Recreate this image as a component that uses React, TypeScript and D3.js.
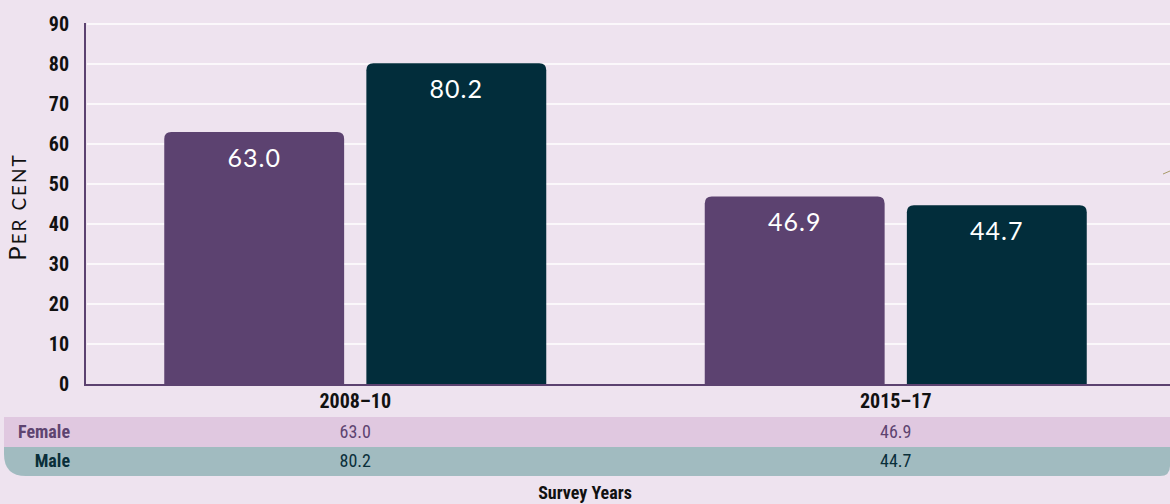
import React from "react";
import * as d3 from "d3";

const categories = ["2008–10", "2015–17"];
const seriesNames = ["Female", "Male"];
const female = [63.0, 46.9];
const male = [80.2, 44.7];
const yTicks = [0, 10, 20, 30, 40, 50, 60, 70, 80, 90];

const W = 1170;
const H = 504;
const colors = { Female: "#5c4270", Male: "#022d3b" };
const rowFill = { Female: "#e0c8e0", Male: "#a1bbc0" };
const rowText = { Female: "#5e4470", Male: "#0a2f3a" };
const condensed = "'Liberation Sans Narrow', 'Roboto Condensed', Roboto, sans-serif";

function topRounded(x: number, y: number, w: number, h: number, r: number) {
  return `M${x},${y + h} L${x},${y + r} Q${x},${y} ${x + r},${y} L${x + w - r},${y} Q${x + w},${y} ${x + w},${y + r} L${x + w},${y + h} Z`;
}

export default function App() {
  const left = 85;
  const right = 1170;
  const top = 24;
  const bottom = 384;
  const y = d3.scaleLinear().domain([0, 90]).range([bottom, top]);
  const x0 = d3.scaleBand<string>().domain(categories).range([left, right - 4]);
  const x1 = d3.scaleBand<string>().domain(seriesNames).range([0, 382]).paddingInner(0.11);
  const values: Record<string, number[]> = { Female: female, Male: male };
  const cx = (c: string) => (x0(c) as number) + x0.bandwidth() / 2;

  return (
    <svg width={W} height={H} style={{ position: "absolute", left: 0, top: 0, display: "block" }}>
      <rect x={0} y={0} width={W} height={H} fill="#eee3ef" />
      {yTicks.filter((t) => t > 0).map((t) => (
        <line key={t} x1={left + 2} x2={right} y1={y(t)} y2={y(t)} stroke="#ffffff" strokeWidth={1.5} />
      ))}
      {yTicks.map((t) => (
        <text key={"t" + t} x={69} y={y(t)} dy="0.35em" textAnchor="end" fontFamily={condensed} fontWeight="bold" fontSize={20} fill="#111">
          {t}
        </text>
      ))}
      {categories.map((c, i) => {
        const gx = cx(c) - 191;
        return seriesNames.map((s) => {
          const v = values[s][i];
          const bx = gx + (x1(s) as number);
          const bw = x1.bandwidth();
          return (
            <g key={c + s}>
              <path d={topRounded(bx, y(v), bw, bottom - y(v), 7)} fill={(colors as any)[s]} />
              <text x={bx + bw / 2} y={y(v) + 26} dy="0.35em" textAnchor="middle" fontFamily="Lato, 'Open Sans', sans-serif" fontSize={25} letterSpacing={1} fill="#ffffff">
                {v.toFixed(1)}
              </text>
            </g>
          );
        });
      })}
      <line x1={left} x2={left} y1={top - 1} y2={bottom + 2} stroke="#5c4270" strokeWidth={2} />
      <line x1={left} x2={right} y1={bottom + 1} y2={bottom + 1} stroke="#5c4270" strokeWidth={2} />
      <line x1={1163} x2={1170} y1={174} y2={171} stroke="#a89a6a" strokeWidth={1} />
      {categories.map((c) => (
        <text key={"c" + c} x={cx(c)} y={401} dy="0.35em" textAnchor="middle" fontFamily={condensed} fontWeight="bold" fontSize={20} fill="#111">
          {c}
        </text>
      ))}
      <path d={`M4,417 L${W},417 L${W},447 L4,447 Z`} fill={rowFill.Female} />
      <path d={`M4,447 L${W},447 L${W},466 Q${W},476 ${W - 10},476 L26,476 Q4,476 4,454 Z`} fill={rowFill.Male} />
      {seriesNames.map((s, r) => {
        const cy = 432 + r * 29;
        return (
          <g key={"row" + s}>
            <text x={70} y={cy} dy="0.35em" textAnchor="end" fontFamily={condensed} fontWeight="bold" fontSize={18} fill={(rowText as any)[s]}>
              {s}
            </text>
            {categories.map((c, i) => (
              <text key={c} x={cx(c)} y={cy} dy="0.35em" textAnchor="middle" fontFamily={condensed} fontSize={18} fill={(rowText as any)[s]}>
                {values[s][i].toFixed(1)}
              </text>
            ))}
          </g>
        );
      })}
      <text x={585} y={493} dy="0.35em" textAnchor="middle" fontFamily={condensed} fontWeight="bold" fontSize={18} fill="#111">
        Survey Years
      </text>
      <text transform={`translate(26,${207}) rotate(-90)`} textAnchor="middle" fontFamily="Lato, 'Open Sans', sans-serif" letterSpacing={2} fill="#111">
        <tspan fontSize={24}>P</tspan>
        <tspan fontSize={19}>ER CENT</tspan>
      </text>
    </svg>
  );
}
